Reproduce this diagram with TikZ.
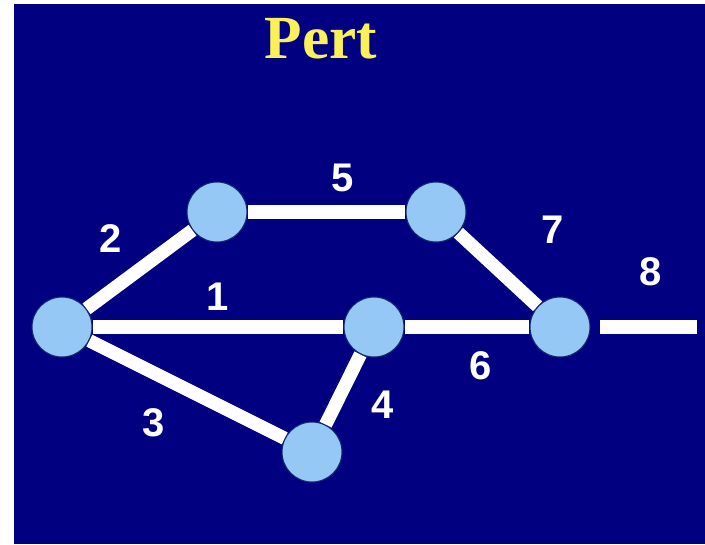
\documentclass[tikz,border=0pt]{standalone}
\usepackage{fontspec}
\setmainfont{Liberation Sans}
\newfontfamily\titlefont{Liberation Serif}
\pgfdeclarelayer{bg}
\pgfdeclarelayer{edges}
\pgfsetlayers{bg,edges,main}
\definecolor{slate}{RGB}{0,0,128}
\definecolor{eventfill}{RGB}{150,200,245}
\definecolor{eventrim}{RGB}{20,40,110}
\definecolor{headline}{RGB}{250,240,90}
\tikzset{
  event/.style={circle, minimum size=45pt, inner sep=0pt, fill=eventfill, draw=eventrim, line width=0.8pt},
  activity/.style={white, line width=10pt},
  tag/.style={text=white, font=\bfseries\fontsize{30}{30}\selectfont, inner sep=0pt},
}
\begin{document}
\begin{tikzpicture}[x=0.75pt,y=-0.75pt]
\useasboundingbox (0,0) rectangle (705,544);
\begin{pgfonlayer}{bg}
  \fill[white] (0,0) rectangle (705,544);
  \fill[slate] (14,4) rectangle (705,544);
\end{pgfonlayer}

\node[text=headline, font=\titlefont\bfseries\fontsize{46}{46}\selectfont, inner sep=0pt] (title) at (321,39) {Pert};

% events
\node[event] (a) at (62,327) {};
\node[event] (b) at (217,212) {};
\node[event] (c) at (436,212) {};
\node[event] (d) at (374,327) {};
\node[event] (e) at (560,327) {};
\node[event] (f) at (312,452) {};
\coordinate (end) at (697,327);

% activities
\begin{pgfonlayer}{edges}
  \draw[activity] (a) -- (d);
  \draw[activity] (a) -- (b);
  \draw[activity] (a) -- (f);
  \draw[activity] (f) -- (d);
  \draw[activity] (b) -- (c);
  \draw[activity] (d) -- (e);
  \draw[activity] (c) -- (e);
  \draw[activity, shorten <=7pt] (e) -- (end);
\end{pgfonlayer}

% activity numbers
\node[tag] (l1) at (218,297) {1};
\node[tag] (l2) at (111,239) {2};
\node[tag] (l3) at (154,423) {3};
\node[tag] (l4) at (383,405) {4};
\node[tag] (l5) at (343,178) {5};
\node[tag] (l6) at (481,366) {6};
\node[tag] (l7) at (553,230) {7};
\node[tag] (l8) at (651,272) {8};
\end{tikzpicture}
\end{document}
